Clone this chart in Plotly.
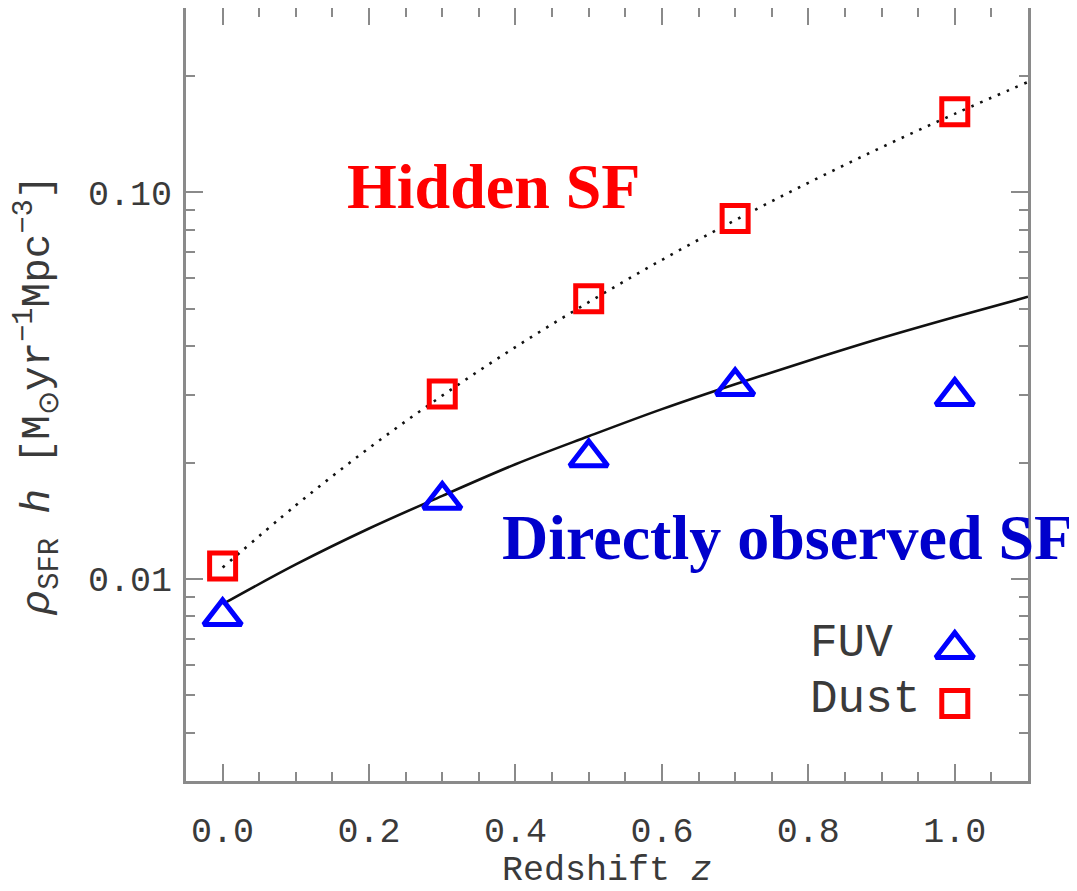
import math
import plotly.graph_objects as go

# ---- data ----
z_points = [0.0, 0.3, 0.5, 0.7, 1.0]
fuv_values = [0.0080, 0.0160, 0.0206, 0.0315, 0.0297]
dust_values = [0.0108, 0.0301, 0.0531, 0.0856, 0.1618]

z_curve = [0.0, 0.1, 0.2, 0.3, 0.4, 0.5, 0.6, 0.7, 0.8, 0.9, 1.0, 1.1]
direct_curve = [0.0086, 0.0109, 0.0135, 0.0164, 0.0198, 0.0234, 0.0275, 0.0319, 0.0367, 0.0420, 0.0476, 0.0537]
hidden_curve = [0.0107, 0.0155, 0.0218, 0.0298, 0.0398, 0.0520, 0.0669, 0.0847, 0.1059, 0.1308, 0.1597, 0.1931]

x_tickvals = [0.0, 0.2, 0.4, 0.6, 0.8, 1.0]
x_ticktext = ["0.0", "0.2", "0.4", "0.6", "0.8", "1.0"]
x_minor = [-0.05, 0.05, 0.1, 0.15, 0.25, 0.3, 0.35, 0.45, 0.5, 0.55, 0.65, 0.7, 0.75,
           0.85, 0.9, 0.95, 1.05, 1.1]
y_tickvals = [0.01, 0.1]
y_ticktext = ["0.01", "0.10"]
y_minor = [0.004, 0.005, 0.006, 0.007, 0.008, 0.009,
           0.02, 0.03, 0.04, 0.05, 0.06, 0.07, 0.08, 0.09, 0.2, 0.3]

legend_labels = ["FUV", "Dust"]
legend_key_z = [1.0, 1.0]
legend_key_y = [0.00658, 0.00476]

MONO = "Liberation Mono"
SERIF = "Liberation Serif"
AXIS_GREY = "#8a8a8a"
TEXT_GREY = "#3a3a3a"

fig = go.Figure()

fig.add_trace(go.Scatter(x=z_curve, y=hidden_curve, mode="lines",
                         line=dict(color="#111", width=2.6, dash="2.6px,7px", shape="spline"),
                         showlegend=False, hoverinfo="skip"))
fig.add_trace(go.Scatter(x=z_curve, y=direct_curve, mode="lines",
                         line=dict(color="#111", width=2.6, shape="spline"),
                         showlegend=False, hoverinfo="skip"))
fig.add_trace(go.Scatter(x=z_points, y=dust_values, mode="markers", name="Dust",
                         marker=dict(symbol="square-open", size=26, color="#ff0000",
                                     line=dict(width=5, color="#ff0000")),
                         showlegend=False))
fig.add_trace(go.Scatter(x=z_points, y=fuv_values, mode="markers", name="FUV",
                         marker=dict(symbol="triangle-up-open", size=33, color="#0000ff",
                                     line=dict(width=5, color="#0000ff")),
                         showlegend=False))
# legend keys
fig.add_trace(go.Scatter(x=legend_key_z[:1], y=legend_key_y[:1], mode="markers",
                         marker=dict(symbol="triangle-up-open", size=33, color="#0000ff",
                                     line=dict(width=5, color="#0000ff")),
                         showlegend=False, hoverinfo="skip"))
fig.add_trace(go.Scatter(x=legend_key_z[1:], y=legend_key_y[1:], mode="markers",
                         marker=dict(symbol="square-open", size=26, color="#ff0000",
                                     line=dict(width=5, color="#ff0000")),
                         showlegend=False, hoverinfo="skip"))

annotations = [
    dict(x=0.370, y=-0.984, text="<b>Hidden SF</b>", showarrow=False,
         font=dict(family=SERIF, size=64, color="#ff0000"), xanchor="center", yanchor="middle"),
    dict(x=0.772, y=-1.894, text="<b>Directly observed SF</b>", showarrow=False,
         font=dict(family=SERIF, size=64, color="#0000cc"), xanchor="center", yanchor="middle"),
]
for lab, ly in zip(legend_labels, [-2.169, -2.314]):
    annotations.append(dict(x=0.800, y=ly, text=lab, showarrow=False,
                            font=dict(family=MONO, size=46, color=TEXT_GREY),
                            xanchor="left", yanchor="middle"))

# the page body adds an 8px offset; the figure is sized to fit the window
fig.update_layout(
    width=1069, height=883,
    margin=dict(l=178, r=49, t=0, b=110),
    paper_bgcolor="white", plot_bgcolor="white",
    annotations=annotations,
    showlegend=False,
)
fig.update_xaxes(
    range=[-0.05, 1.1], showgrid=False, zeroline=False, automargin=False,
    showline=True, linecolor=AXIS_GREY, linewidth=3, mirror="allticks",
    ticks="inside", ticklen=17, tickwidth=2, tickcolor=AXIS_GREY,
    tickvals=x_tickvals, ticktext=x_ticktext,
    tickfont=dict(family=MONO, size=35, color=TEXT_GREY),
    ticklabelstandoff=16,
    minor=dict(tickvals=x_minor, ticks="inside", ticklen=9, tickwidth=2, tickcolor=AXIS_GREY),
    title=dict(text="Redshift <i>z</i>", font=dict(family=MONO, size=35, color=TEXT_GREY), standoff=4),
)
fig.update_yaxes(
    type="log", range=[math.log10(0.003), math.log10(0.3)], showgrid=False, zeroline=False,
    automargin=False,
    showline=True, linecolor=AXIS_GREY, linewidth=3, mirror="allticks",
    ticks="inside", ticklen=17, tickwidth=2, tickcolor=AXIS_GREY,
    tickvals=y_tickvals, ticktext=y_ticktext,
    tickfont=dict(family=MONO, size=35, color=TEXT_GREY),
    ticklabelstandoff=4,
    minor=dict(tickvals=y_minor, ticks="inside", ticklen=9, tickwidth=2, tickcolor=AXIS_GREY),
    title=dict(text="<i>ρ</i><sub>SFR</sub> <i>h</i> [M<sub>⊙</sub>yr<sup>−1</sup>Mpc<sup>−3</sup>]",
               font=dict(family=MONO, size=41, color=TEXT_GREY), standoff=34),
)

fig.write_html("out.html")
